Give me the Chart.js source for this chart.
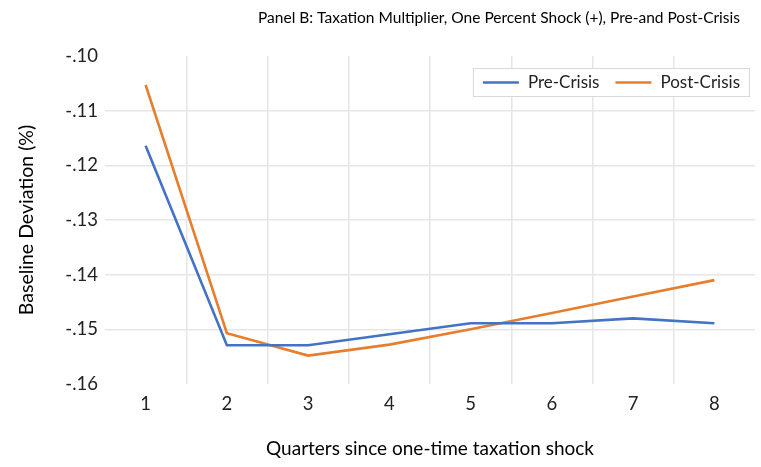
<!DOCTYPE html>
<html>
<head>
<meta charset="utf-8">
<script src="https://cdn.jsdelivr.net/npm/chart.js@4"></script>
<style>
  html, body { margin: 0; padding: 0; background: #fff; }
  #wrap { width: 761px; height: 467px; }
</style>
</head>
<body>
<div id="wrap"><canvas id="chart" width="761" height="467"></canvas></div>
<script>
// data
const quarters = ['1', '2', '3', '4', '5', '6', '7', '8'];
const preCrisis = [-0.1164, -0.1529, -0.1529, -0.1509, -0.1489, -0.1489, -0.1480, -0.1489];
const postCrisis = [-0.1053, -0.1507, -0.1548, -0.1528, -0.1500, -0.1470, -0.1440, -0.1410];
const seriesNames = ['Pre-Crisis', 'Post-Crisis'];
const seriesColors = ['#4472C4', '#E67E2E'];

const FONT = 'Lato, "Noto Sans", sans-serif';
const titleText = 'Panel B: Taxation Multiplier, One Percent Shock (+), Pre-and Post-Crisis';
const gridColor = '#e6e6e6';

// title, offset to the right like the original
const titlePlugin = {
  id: 'panelTitle',
  afterDraw(chart) {
    const ctx = chart.ctx;
    ctx.save();
    ctx.font = '15.5px ' + FONT;
    ctx.fillStyle = '#000';
    ctx.textAlign = 'center';
    ctx.textBaseline = 'middle';
    ctx.fillText(titleText, 499, 18);
    ctx.restore();
  }
};

// boxed legend inside the plot, top right
const boxLegend = {
  id: 'boxLegend',
  afterDraw(chart) {
    const ctx = chart.ctx;
    const area = chart.chartArea;
    ctx.save();
    ctx.font = '17px ' + FONT;
    const lineLen = 36, gap = 9, itemGap = 16, padX = 10;
    const widths = chart.data.datasets.map(d => ctx.measureText(d.label).width);
    let total = padX * 2;
    widths.forEach((w, i) => { total += lineLen + gap + w + (i > 0 ? itemGap : 0); });
    const right = area.right - 5;
    const left = right - total;
    const top = area.top + 12, h = 29;
    ctx.fillStyle = '#fff';
    ctx.fillRect(left, top, total, h);
    ctx.strokeStyle = '#d9d9d9';
    ctx.lineWidth = 1;
    ctx.strokeRect(left + 0.5, top + 0.5, total - 1, h - 1);
    let x = left + padX;
    const cy = top + h / 2;
    chart.data.datasets.forEach((d, i) => {
      if (i > 0) x += itemGap;
      ctx.strokeStyle = d.borderColor;
      ctx.lineWidth = 2.5;
      ctx.beginPath();
      ctx.moveTo(x, cy);
      ctx.lineTo(x + lineLen, cy);
      ctx.stroke();
      x += lineLen + gap;
      ctx.fillStyle = '#222';
      ctx.textBaseline = 'middle';
      ctx.fillText(d.label, x, cy);
      x += widths[i];
    });
    ctx.restore();
  }
};

const yMin = -0.16, yMax = -0.10;

new Chart(document.getElementById('chart'), {
  type: 'line',
  data: {
    labels: quarters,
    datasets: [
      { label: seriesNames[0], data: preCrisis, borderColor: seriesColors[0], backgroundColor: seriesColors[0] },
      { label: seriesNames[1], data: postCrisis, borderColor: seriesColors[1], backgroundColor: seriesColors[1] }
    ]
  },
  options: {
    responsive: false,
    animation: false,
    devicePixelRatio: 1,
    layout: { padding: { top: 56, right: 6, bottom: 0, left: 0 } },
    elements: {
      line: { borderWidth: 2.6, tension: 0 },
      point: { radius: 0, hoverRadius: 0 }
    },
    plugins: {
      legend: { display: false },
      tooltip: { enabled: false }
    },
    scales: {
      x: {
        offset: true,
        afterFit(scale) { scale.height = 83; },
        border: { display: false },
        grid: {
          offset: true,
          drawTicks: false,
          color: c => (!c.tick || c.index === 0) ? 'rgba(0,0,0,0)' : gridColor,
          lineWidth: 1.5
        },
        ticks: { padding: 9, color: '#222', font: { family: FONT, size: 18.5 } },
        title: {
          display: true,
          text: 'Quarters since one-time taxation shock',
          color: '#000',
          font: { family: FONT, size: 19 },
          padding: { top: 0, bottom: 7 }
        }
      },
      y: {
        min: yMin,
        max: yMax,
        afterFit(scale) { scale.width = 105; },
        border: { display: false },
        grid: {
          drawTicks: false,
          color: c => (Math.abs(c.tick.value - yMin) < 1e-6 || Math.abs(c.tick.value - yMax) < 1e-6) ? 'rgba(0,0,0,0)' : gridColor,
          lineWidth: 1.5
        },
        ticks: {
          stepSize: 0.01,
          padding: 7,
          color: '#222',
          font: { family: FONT, size: 18.5 },
          callback: v => v.toFixed(2).replace('0.', '.')
        },
        title: {
          display: true,
          text: 'Baseline Deviation (%)',
          color: '#000',
          font: { family: FONT, size: 19.5 },
          padding: { top: 15, bottom: 0 }
        }
      }
    }
  },
  plugins: [titlePlugin, boxLegend]
});
</script>
</body>
</html>
